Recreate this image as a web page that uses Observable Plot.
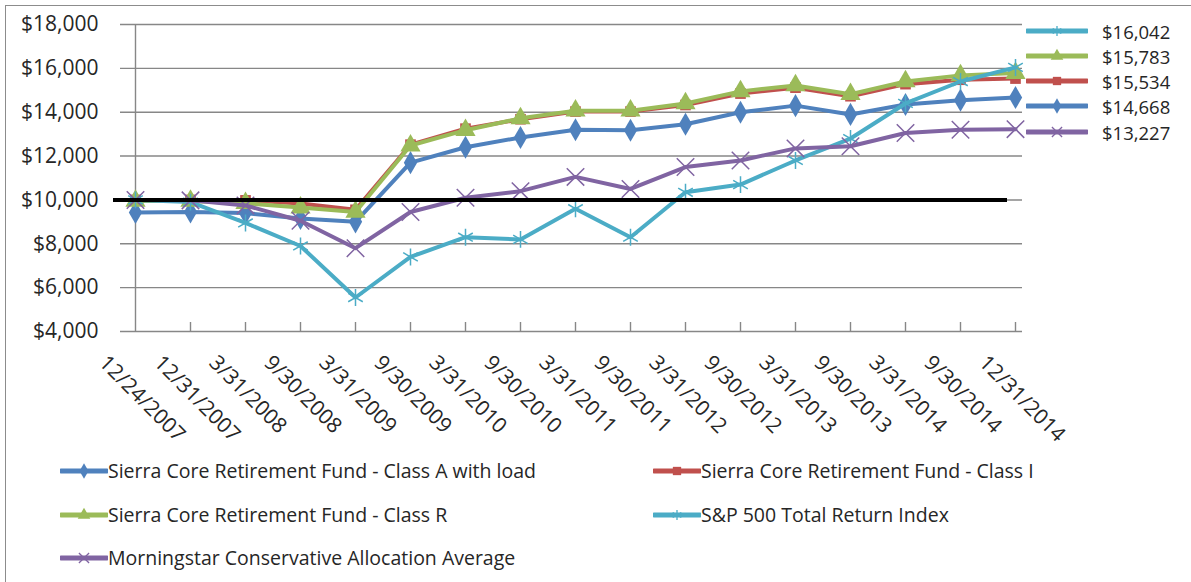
<!DOCTYPE html>
<html><head><meta charset="utf-8">
<script src="https://cdn.jsdelivr.net/npm/d3@7"></script>
<script src="https://cdn.jsdelivr.net/npm/@observablehq/plot@0.6"></script>
<style>
body{margin:0;background:#fff;font-family:"Open Sans",sans-serif;}
#wrap{position:relative;width:1191px;height:582px;overflow:hidden;background:#fff;}
#border{position:absolute;left:5px;top:5px;width:1300px;height:700px;border:1.5px solid #8c8c8c;}
#chart{position:absolute;left:0;top:0;}
.leg{position:absolute;display:flex;align-items:center;font-size:19.5px;color:#262626;white-space:nowrap;line-height:1;}
.leg svg{display:block;}
.end{font-size:18.5px;}
.end span{display:inline-block;height:17px;line-height:17px;overflow:visible;}
</style></head><body>
<div id="wrap"><div id="border"></div><div id="chart"></div></div>
<script>
const dates = ["12/24/2007","12/31/2007","3/31/2008","9/30/2008","3/31/2009","9/30/2009","3/31/2010","9/30/2010","3/31/2011","9/30/2011","3/31/2012","9/30/2012","3/31/2013","9/30/2013","3/31/2014","9/30/2014","12/31/2014"];
const classA = [9425, 9450, 9400, 9150, 9000, 11700, 12400, 12850, 13200, 13180, 13450, 14000, 14300, 13900, 14350, 14550, 14668];
const classI = [10000, 10000, 9980, 9840, 9550, 12520, 13250, 13680, 14030, 14030, 14330, 14850, 15120, 14730, 15280, 15480, 15534];
const classR = [9950, 9950, 9850, 9650, 9450, 12480, 13180, 13720, 14070, 14070, 14400, 14950, 15220, 14820, 15400, 15680, 15783];
const sp500 = [10000, 9900, 8950, 7900, 5550, 7400, 8300, 8200, 9600, 8300, 10350, 10700, 11800, 12800, 14400, 15400, 16042];
const morningstar = [10000, 9980, 9750, 9050, 7800, 9450, 10100, 10400, 11050, 10500, 11500, 11800, 12350, 12450, 13050, 13200, 13227];
const seriesNames = ["Sierra Core Retirement Fund - Class A with load","Sierra Core Retirement Fund - Class I","Sierra Core Retirement Fund - Class R","S&P 500 Total Return Index","Morningstar Conservative Allocation Average"];
const seriesValues = [classA, classI, classR, sp500, morningstar];
const colors = ["#4F81BD","#C0504D","#9BBB59","#4BACC6","#8064A2"];
const symbols = ["diamond","square","triangle","asterisk","times"];
const yTicks = [4000, 6000, 8000, 10000, 12000, 14000, 16000, 18000];
const baseline = 10000;

const fmt = d3.format("$,");
const rows = seriesNames.map((s, k) => seriesValues[k].map((v, i) => ({series: s, date: dates[i], value: v})));

const marks = [
  Plot.gridY(yTicks, {stroke: "#878787", strokeOpacity: 1, strokeWidth: 1.4, insetLeft: -7}),
  Plot.ruleX([dates[0]], {stroke: "#878787", strokeWidth: 1.4}),
  Plot.tickX(dates.slice(1), {x: d => d, stroke: "#878787", strokeWidth: 1.4, insetTop: 298}),
];
const rSizes = [7, 6, 7.5, 8, 8];
rows.forEach((data, k) => {
  marks.push(Plot.line(data, {x: "date", y: "value", stroke: colors[k], strokeWidth: 4}));
  const stroked = symbols[k] === "asterisk" || symbols[k] === "times";
  marks.push(Plot.dot(data, {x: "date", y: "value", symbol: symbols[k], r: rSizes[k],
    fill: stroked ? "none" : colors[k], stroke: stroked ? colors[k] : "none", strokeWidth: 1.5}));
});
marks.push(Plot.ruleY([baseline], {stroke: "#000", strokeWidth: 4, insetLeft: -14, insetRight: 15}));
marks.push(Plot.axisY(yTicks, {tickSize: 0, tickPadding: 29, tickFormat: fmt, fontSize: 21, fill: "#262626", label: null}));
marks.push(Plot.text(dates, {x: d => d, frameAnchor: "bottom", rotate: 45, textAnchor: "start", lineAnchor: "top", dx: -27, dy: 22, fontSize: 21, fill: "#262626"}));

const chart = Plot.plot({
  width: 1191, height: 582,
  marginLeft: 127, marginRight: 169, marginTop: 24, marginBottom: 251,
  style: {fontFamily: "'Open Sans', sans-serif", background: "transparent"},
  x: {type: "point", domain: dates, padding: 0, axis: null},
  y: {domain: [4000, 18000], axis: null},
  marks
});
document.getElementById("chart").appendChild(chart);

function sample(k, w) {
  const h = 16, cx = w / 2, cy = h / 2;
  const symMap = {diamond: d3.symbolDiamond, square: d3.symbolSquare, triangle: d3.symbolTriangle, asterisk: d3.symbolAsterisk || d3.symbolCross, times: d3.symbolTimes || d3.symbolCross};
  const stroked = symbols[k] === "asterisk" || symbols[k] === "times";
  const p = d3.symbol(symMap[symbols[k]], Math.PI * 22)();
  return `<svg width="${w}" height="${h}"><line x1="1" x2="${w-1}" y1="${cy}" y2="${cy}" stroke="${colors[k]}" stroke-width="5" stroke-linecap="round"/>` +
    `<path d="${p}" transform="translate(${cx},${cy})" fill="${stroked ? "none" : colors[k]}" stroke="${stroked ? colors[k] : "none"}" stroke-width="1.3"/></svg>`;
}
const wrap = document.getElementById("wrap");
// bottom legend
const legPos = [[60, 473], [653, 473], [60, 517], [653, 517], [60, 560]];
seriesNames.forEach((s, k) => {
  const d = document.createElement("div");
  d.className = "leg";
  d.style.left = legPos[k][0] + "px";
  d.style.top = (legPos[k][1] - 12) + "px";
  d.innerHTML = sample(k, 48) + `<span>${s}</span>`;
  wrap.appendChild(d);
});
// end-value legend (ordered by final value)
const order = d3.range(5).sort((a, b) => seriesValues[b][16] - seriesValues[a][16]);
const endTops = [31, 56, 81, 106, 132];
order.forEach((k, j) => {
  const d = document.createElement("div");
  d.className = "leg end";
  d.style.left = "1026px";
  d.style.top = (endTops[j] - 9) + "px";
  d.style.height = "18px";
  d.innerHTML = sample(k, 62) + `<span style="margin-left:14px">${fmt(seriesValues[k][16])}</span>`;
  wrap.appendChild(d);
});
</script>
</body></html>
